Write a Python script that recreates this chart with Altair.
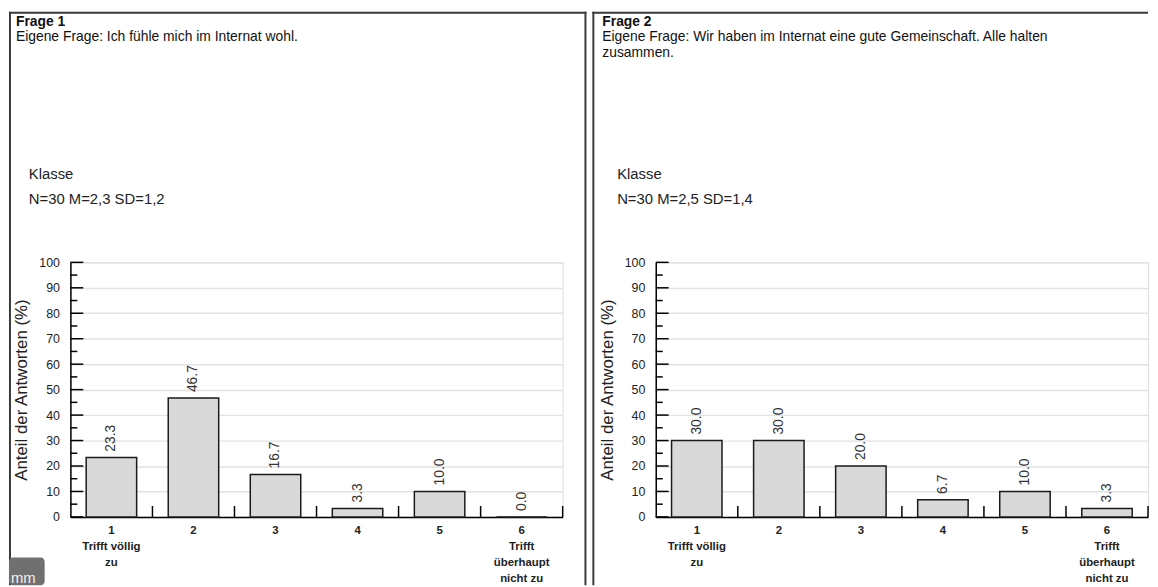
import altair as alt
import pandas as pd

FONT = "Liberation Sans"

# ---- data -------------------------------------------------------------
category_labels = ["1|Trifft völlig|zu", "2", "3", "4", "5", "6|Trifft|überhaupt|nicht zu"]
values_q1 = [23.3, 46.7, 16.7, 3.3, 10.0, 0.0]
values_q2 = [30.0, 30.0, 20.0, 6.7, 10.0, 3.3]
titles = ["Frage 1", "Frage 2"]
questions = [
    "Eigene Frage: Ich fühle mich im Internat wohl.",
    "Eigene Frage: Wir haben im Internat eine gute Gemeinschaft. Alle halten|zusammen.",
]
group_label = "Klasse"
stats = ["N=30 M=2,3 SD=1,2", "N=30 M=2,5 SD=1,4"]
y_title = "Anteil der Antworten (%)"
y_major = [0, 10, 20, 30, 40, 50, 60, 70, 80, 90, 100]
y_minor = [5, 15, 25, 35, 45, 55, 65, 75, 85, 95]
boundaries = [1, 2, 3, 4, 5, 6]

W = 497
H = 257
P_IN = 0.385


def one(text):
    return pd.DataFrame({"t": [text]})


Y_AXIS = alt.Axis(
    values=y_major, ticks=False, grid=True, gridColor="#e2e2e2", gridWidth=1.5,
    domainColor="#000", domainWidth=1.5, labelFont=FONT, labelFontSize=12.5,
    labelColor="#222", labelPadding=11, labelOverlap=False, labelFlush=False,
    title=y_title, titleFont=FONT,
    titleFontSize=17, titleFontWeight="normal", titleColor="#222",
    titleX=-49, titleY=H / 2, titleAngle=270, titleBaseline="middle",
    titleAlign="center",
)
Y_SCALE = alt.Scale(domain=[0, 100], nice=False)

X_AXIS = alt.Axis(
    title=None, labelExpr="split(datum.value, '|')", labelAngle=0, ticks=False,
    domainColor="#000", domainWidth=1.5, labelFont=FONT, labelFontSize=11.5,
    labelFontWeight="bold", labelColor="#222", labelPadding=8,
    labelLineHeight=16, labelBaseline="top",
)
X_SCALE = alt.Scale(paddingInner=P_IN, paddingOuter=P_IN / 2)


def yenc(field="value:Q"):
    return alt.Y(field, scale=Y_SCALE, axis=Y_AXIS)


def bar_rect(x1, x2, y1, y2, color="#3a3a3a"):
    return alt.Chart(one("b")).mark_rect(color=color).encode(
        x=alt.value(x1), x2=alt.value(x2), y=alt.value(y1), y2=alt.value(y2))


def panel(values, title, question, stat, left, right, tx, kx, mm=False):
    df = pd.DataFrame({"cat": category_labels, "value": values})
    x_enc = alt.X("cat:N", sort=category_labels, scale=X_SCALE, axis=X_AXIS)

    bars = alt.Chart(df).mark_bar(
        fill="#d9d9d9", stroke="#1a1a1a", strokeWidth=1.5
    ).encode(x=x_enc, y=yenc())

    vlabels = alt.Chart(df).mark_text(
        angle=270, align="left", baseline="middle", dx=6, fontSize=14, font=FONT, color="#333"
    ).encode(
        x=x_enc,
        y=yenc(),
        text=alt.Text("value:Q", format=".1f"),
    )

    major = alt.Chart(pd.DataFrame({"value": y_major})).mark_rule(
        color="#000", strokeWidth=1.5
    ).encode(y=yenc(), x=alt.value(0), x2=alt.value(13))
    minor = alt.Chart(pd.DataFrame({"value": y_minor})).mark_rule(
        color="#000", strokeWidth=1.5
    ).encode(y=yenc(), x=alt.value(0), x2=alt.value(7))

    inner = alt.layer(bars, vlabels, major, minor)

    bnd = alt.Chart(pd.DataFrame({"b": boundaries})).mark_rule(
        color="#000", strokeWidth=1.5
    ).encode(
        x=alt.X("b:Q", scale=alt.Scale(domain=[0, 6], nice=False, zero=False), axis=None),
        y=alt.value(H), y2=alt.value(H - 11),
    )

    # header texts
    t_title = alt.Chart(one(title)).mark_text(
        align="left", baseline="alphabetic", fontSize=14, fontWeight="bold", font=FONT, color="#111"
    ).encode(text="t:N", x=alt.value(tx), y=alt.value(-239))
    t_q = alt.Chart(one(question)).mark_text(
        align="left", baseline="alphabetic", fontSize=14, font=FONT, color="#111",
        lineBreak="|", lineHeight=16,
    ).encode(text="t:N", x=alt.value(tx), y=alt.value(-223))
    t_g = alt.Chart(one(group_label)).mark_text(
        align="left", baseline="alphabetic", fontSize=15, font=FONT, color="#222"
    ).encode(text="t:N", x=alt.value(kx), y=alt.value(-84))
    t_s = alt.Chart(one(stat)).mark_text(
        align="left", baseline="alphabetic", fontSize=15, font=FONT, color="#222"
    ).encode(text="t:N", x=alt.value(kx), y=alt.value(-59))

    # panel frame (filled thin rects, exact bounds)
    top, bottom = -253, 326
    frame_right = right + 2 if right is not None else W
    layers = [inner, bnd, t_title, t_q, t_g, t_s,
              bar_rect(left, left + 2, top, bottom),
              bar_rect(left, frame_right, top, top + 2)]
    if right is not None:
        layers.append(bar_rect(right, right + 2, top, bottom))
    if mm:
        box = alt.Chart(one("mm")).mark_rect(color="#707070", cornerRadius=4).encode(
            x=alt.value(left), x2=alt.value(-26), y=alt.value(298), y2=alt.value(326))
        box_t = alt.Chart(one("mm")).mark_text(
            align="left", baseline="middle", fontSize=15, font=FONT, color="#f0f0f0"
        ).encode(text="t:N", x=alt.value(left + 2), y=alt.value(319))
        layers += [box, box_t]

    return alt.layer(*layers).resolve_scale(x="independent").properties(width=W, height=H)


p1 = panel(values_q1, titles[0], questions[0], stats[0], left=-62, right=519, tx=-55, kx=-42, mm=True)
p2 = panel(values_q2, titles[1], questions[1], stats[1], left=-64, right=None, tx=-54, kx=-39)

chart = alt.hconcat(p1, p2, spacing=4).properties(padding=0).configure_view(
    stroke=None
).configure(font=FONT, background="white")

chart.save("out.html", embed_options={"renderer": "svg", "actions": False})
